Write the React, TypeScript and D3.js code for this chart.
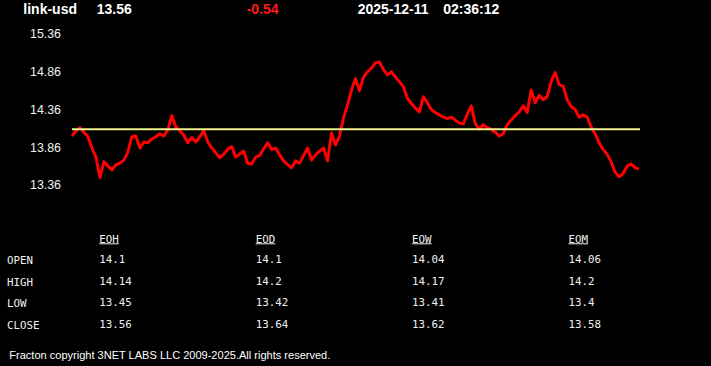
import React from "react";
import * as d3 from "d3";

const symbol = "link-usd";
const lastPrice = "13.56";
const change = "-0.54";
const dateStr = "2025-12-11";
const timeStr = "02:36:12";

const yTickLabels = [13.36, 13.86, 14.36, 14.86, 15.36];
const refLevel = 14.09;

const prices = [
  14.0, 14.07, 14.11, 14.05, 13.99, 13.84, 13.72, 13.45, 13.66, 13.6,
  13.55, 13.62, 13.64, 13.68, 13.79, 13.99, 14.0, 13.84, 13.92, 13.91,
  13.96, 13.99, 14.03, 14.0, 14.08, 14.27, 14.12, 14.07, 14.01, 13.91,
  13.98, 13.92, 13.99, 14.07, 13.92, 13.84, 13.78, 13.71, 13.76, 13.82,
  13.86, 13.72, 13.76, 13.8, 13.64, 13.63, 13.72, 13.74, 13.83, 13.91,
  13.82, 13.84, 13.75, 13.67, 13.62, 13.58, 13.67, 13.64, 13.74, 13.84,
  13.68, 13.75, 13.8, 13.84, 13.67, 14.04, 13.88, 14.0, 14.24, 14.41,
  14.61, 14.76, 14.6, 14.78, 14.85, 14.9, 14.97, 14.98, 14.88, 14.81,
  14.85, 14.78, 14.72, 14.65, 14.5, 14.43, 14.37, 14.32, 14.52, 14.44,
  14.35, 14.31, 14.28, 14.25, 14.23, 14.25, 14.21, 14.17, 14.16, 14.29,
  14.4, 14.16, 14.09, 14.15, 14.11, 14.09, 14.05, 14.0, 14.03, 14.15,
  14.21, 14.27, 14.32, 14.4, 14.31, 14.61, 14.44, 14.54, 14.48, 14.52,
  14.72, 14.84, 14.68, 14.66, 14.48, 14.39, 14.35, 14.25, 14.28, 14.25,
  14.12, 14.03, 13.91, 13.82, 13.76, 13.66, 13.52, 13.46, 13.5, 13.6,
  13.63, 13.58, 13.56,
];

const columns = ["EOH", "EOD", "EOW", "EOM"];
const rowNames = ["OPEN", "HIGH", "LOW", "CLOSE"];
const eohValues = ["14.1", "14.14", "13.45", "13.56"];
const eodValues = ["14.1", "14.2", "13.42", "13.64"];
const eowValues = ["14.04", "14.17", "13.41", "13.62"];
const eomValues = ["14.06", "14.2", "13.4", "13.58"];
const footer = "Fracton copyright 3NET LABS LLC 2009-2025.All rights reserved.";

export default function App() {
  const W = 711;
  const H = 366;
  const x = d3.scaleLinear().domain([0, prices.length - 1]).range([72, 639]);
  const y = d3.scaleLinear().domain([13.36, 15.36]).range([184.3, 33.3]);
  const line = d3
    .line<number>()
    .x((_, i) => x(i))
    .y((d) => y(d))
    .curve(d3.curveLinear);

  const colX = d3.scalePoint<string>().domain(columns).range([99.3, 568.5]);
  const rowY = d3.scalePoint<string>().domain(rowNames).range([260.3, 325]);
  const tableValues = [eohValues, eodValues, eowValues, eomValues];

  const mono = "'DejaVu Sans Mono', 'Liberation Mono', monospace";
  const sans = "'Liberation Sans', Arial, sans-serif";

  return (
    <div style={{ position: "fixed", left: 0, top: 0, width: W, height: H, background: "#000" }}>
      <svg width={W} height={H} style={{ display: "block" }}>
        <rect x={0} y={0} width={W} height={H} fill="#000" />
        {/* header */}
        <g fontFamily={sans} fontWeight="bold" fontSize={14} fill="#fff">
          <text x={23.3} y={14}>{symbol}</text>
          <text x={96.7} y={14}>{lastPrice}</text>
          <text x={246.7} y={14} fill="#ff1a1a">{change}</text>
          <text x={357.7} y={14}>{dateStr}</text>
          <text x={443.3} y={14}>{timeStr}</text>
        </g>
        {/* y labels */}
        <g fontFamily={sans} fontSize={13.5} fill="#f2f2f2">
          {yTickLabels.map((t) => (
            <text
              key={t}
              x={61}
              y={y(t) + 5}
              textAnchor="end"
              textLength={31}
              lengthAdjust="spacingAndGlyphs"
            >
              {t.toFixed(2)}
            </text>
          ))}
        </g>
        {/* price line */}
        <path
          d={line(prices) || ""}
          fill="none"
          stroke="#ff0000"
          strokeWidth={3}
          strokeLinejoin="round"
        />
        {/* reference level */}
        <line
          x1={72}
          x2={640}
          y1={y(refLevel)}
          y2={y(refLevel)}
          stroke="#f0f08c"
          strokeWidth={2}
        />
        {/* table */}
        <g fontFamily={mono} fontSize={10.8} fill="#f0f0f0">
          {columns.map((c) => (
            <g key={c}>
              <text x={colX(c)} y={242.5}>{c}</text>
              <line
                x1={colX(c)}
                x2={(colX(c) || 0) + 19.5}
                y1={243.8}
                y2={243.8}
                stroke="#f0f0f0"
                strokeWidth={1}
              />
            </g>
          ))}
          {rowNames.map((r, ri) => (
            <g key={r}>
              <text x={7} y={(rowY(r) || 0) + 4}>{r}</text>
              {columns.map((c, ci) => (
                <text key={c} x={colX(c)} y={(rowY(r) || 0) + 3}>
                  {tableValues[ci][ri]}
                </text>
              ))}
            </g>
          ))}
        </g>
        <text
          x={9.3}
          y={359}
          fontFamily={sans}
          fontSize={11}
          fill="#fff"
          textLength={321}
          lengthAdjust="spacingAndGlyphs"
        >
          {footer}
        </text>
      </svg>
    </div>
  );
}
